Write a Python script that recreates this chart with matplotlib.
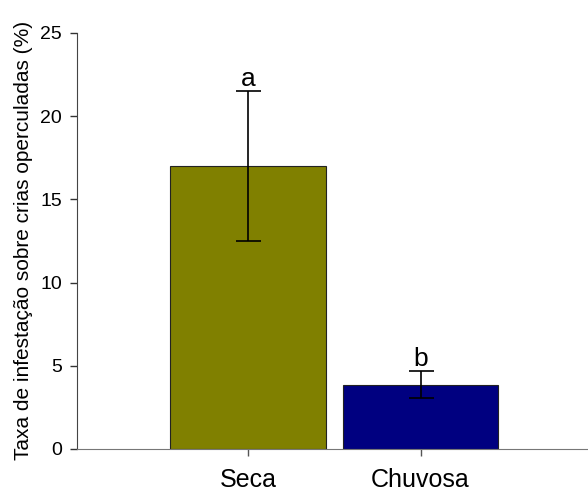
import matplotlib.pyplot as plt

plt.rcParams["font.family"] = ["Liberation Sans", "DejaVu Sans"]

# Taxa de infestação por estação
estacoes = ["Seca", "Chuvosa"]
medias = [17.0, 3.87]
erros = [4.5, 0.8]
letras = ["a", "b"]
cores = ["#808000", "#000080"]

fig = plt.figure(figsize=(5.88, 4.97), dpi=100)
ax = fig.add_axes([0.131, 0.0966, 0.869, 0.8374])

x = range(len(estacoes))
ax.bar(x, medias, width=0.9, color=cores, edgecolor="#222222", linewidth=0.8)
ax.errorbar(x, medias, yerr=erros, fmt="none", ecolor="black",
            elinewidth=1.2, capsize=9, capthick=1.2)

# letras de significância acima das barras de erro
for i, (m, e, l) in enumerate(zip(medias, erros, letras)):
    ax.text(i, m + e + 0.03, l, ha="center", va="bottom", fontsize=19)

ax.set_xlim(-0.99, 1.97)
ax.set_ylim(0, 25)
ax.set_xticks(list(x))
ax.set_xticklabels(estacoes, fontsize=18)
ax.set_yticks([0, 5, 10, 15, 20, 25])
ax.tick_params(axis="y", labelsize=14, direction="out", length=5, width=1,
               colors="#333333", labelcolor="black", pad=6)
ax.tick_params(axis="x", direction="out", length=5, width=1, pad=9,
               colors="#555555", labelcolor="black")
ax.set_ylabel("Taxa de infestação sobre crias operculadas (%)", fontsize=15, labelpad=5)

ax.spines["top"].set_visible(False)
ax.spines["right"].set_visible(False)
ax.spines["left"].set_color("#444444")
ax.spines["bottom"].set_color("#777777")

plt.savefig("out.png", dpi=100)
